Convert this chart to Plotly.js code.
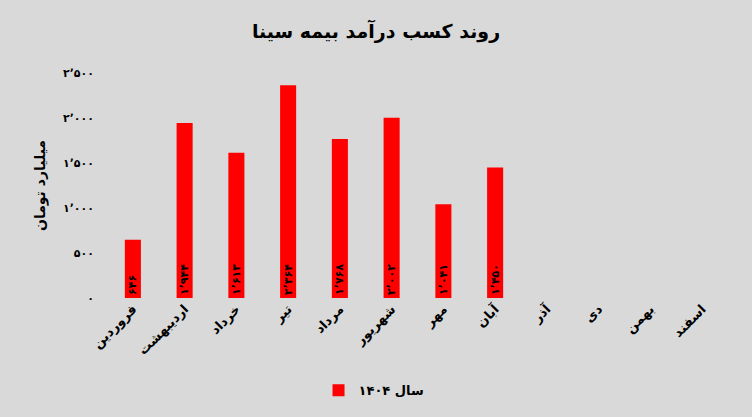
<!DOCTYPE html>
<html>
<head>
<meta charset="utf-8">
<script src="https://cdn.plot.ly/plotly-3.0.1.min.js"></script>
<style>html,body{margin:0;padding:0;background:#d9d9d9;}#chart{width:752px;height:417px;}</style>
</head>
<body>
<div id="chart"></div>
<script>
const months = ["فروردین","اردیبهشت","خرداد","تیر","مرداد","شهریور","مهر","آبان","آذر","دی","بهمن","اسفند"];
const revenue = [646, 1944, 1613, 2364, 1768, 2002, 1041, 1450, null, null, null, null];
const yTicks = [0, 500, 1000, 1500, 2000, 2500];
const seriesName = "سال ۱۴۰۴";
const chartTitle = "روند کسب درآمد بیمه سینا";
const yTitle = "میلیارد تومان";

function fa(n){
  const s = String(n).replace(/\B(?=(\d{3})+(?!\d))/g, "٬");
  return s.replace(/\d/g, d => "۰۱۲۳۴۵۶۷۸۹"[+d]);
}
const font = "DejaVu Sans, Tahoma, sans-serif";
const trace = {
  type: "bar",
  x: months,
  y: revenue,
  name: seriesName,
  marker: {color: "#ff0000"},
  text: revenue.map(v => v == null ? "" : fa(v)),
  textposition: "inside",
  insidetextanchor: "start",
  textangle: -90,
  constraintext: "none",
  textfont: {family: font, size: 11, color: "#000", weight: "bold"},
  hoverinfo: "none",
  showlegend: true
};
const layout = {
  width: 752, height: 417,
  paper_bgcolor: "#d9d9d9", plot_bgcolor: "#d9d9d9",
  margin: {l: 107, r: 24, t: 73, b: 119},
  bargap: 0.69,
  title: {text: chartTitle, x: 0.5, xanchor: "center", y: 0.925, yanchor: "middle",
          font: {family: font, size: 19, color: "#000", weight: "bold"}},
  xaxis: {type: "category", tickangle: -45, showgrid: false, zeroline: false, showline: false,
          tickfont: {family: font, size: 13, color: "#000", weight: "bold"}},
  yaxis: {range: [0, 2500], tickvals: yTicks, ticktext: yTicks.map(fa), showgrid: false,
          zeroline: false, showline: false, ticklabelstandoff: 12,
          tickfont: {family: font, size: 11, color: "#000", weight: "bold"},
          title: {text: yTitle, standoff: 14, font: {family: font, size: 14, color: "#000", weight: "bold"}}},
  showlegend: true,
  legend: {orientation: "h", x: 0.43, xanchor: "center", y: -0.41, yanchor: "middle",
           font: {family: font, size: 13, color: "#000", weight: "bold"}, bgcolor: "rgba(0,0,0,0)"}
};
Plotly.newPlot("chart", [trace], layout, {displayModeBar: false, staticPlot: true});
</script>
</body>
</html>
